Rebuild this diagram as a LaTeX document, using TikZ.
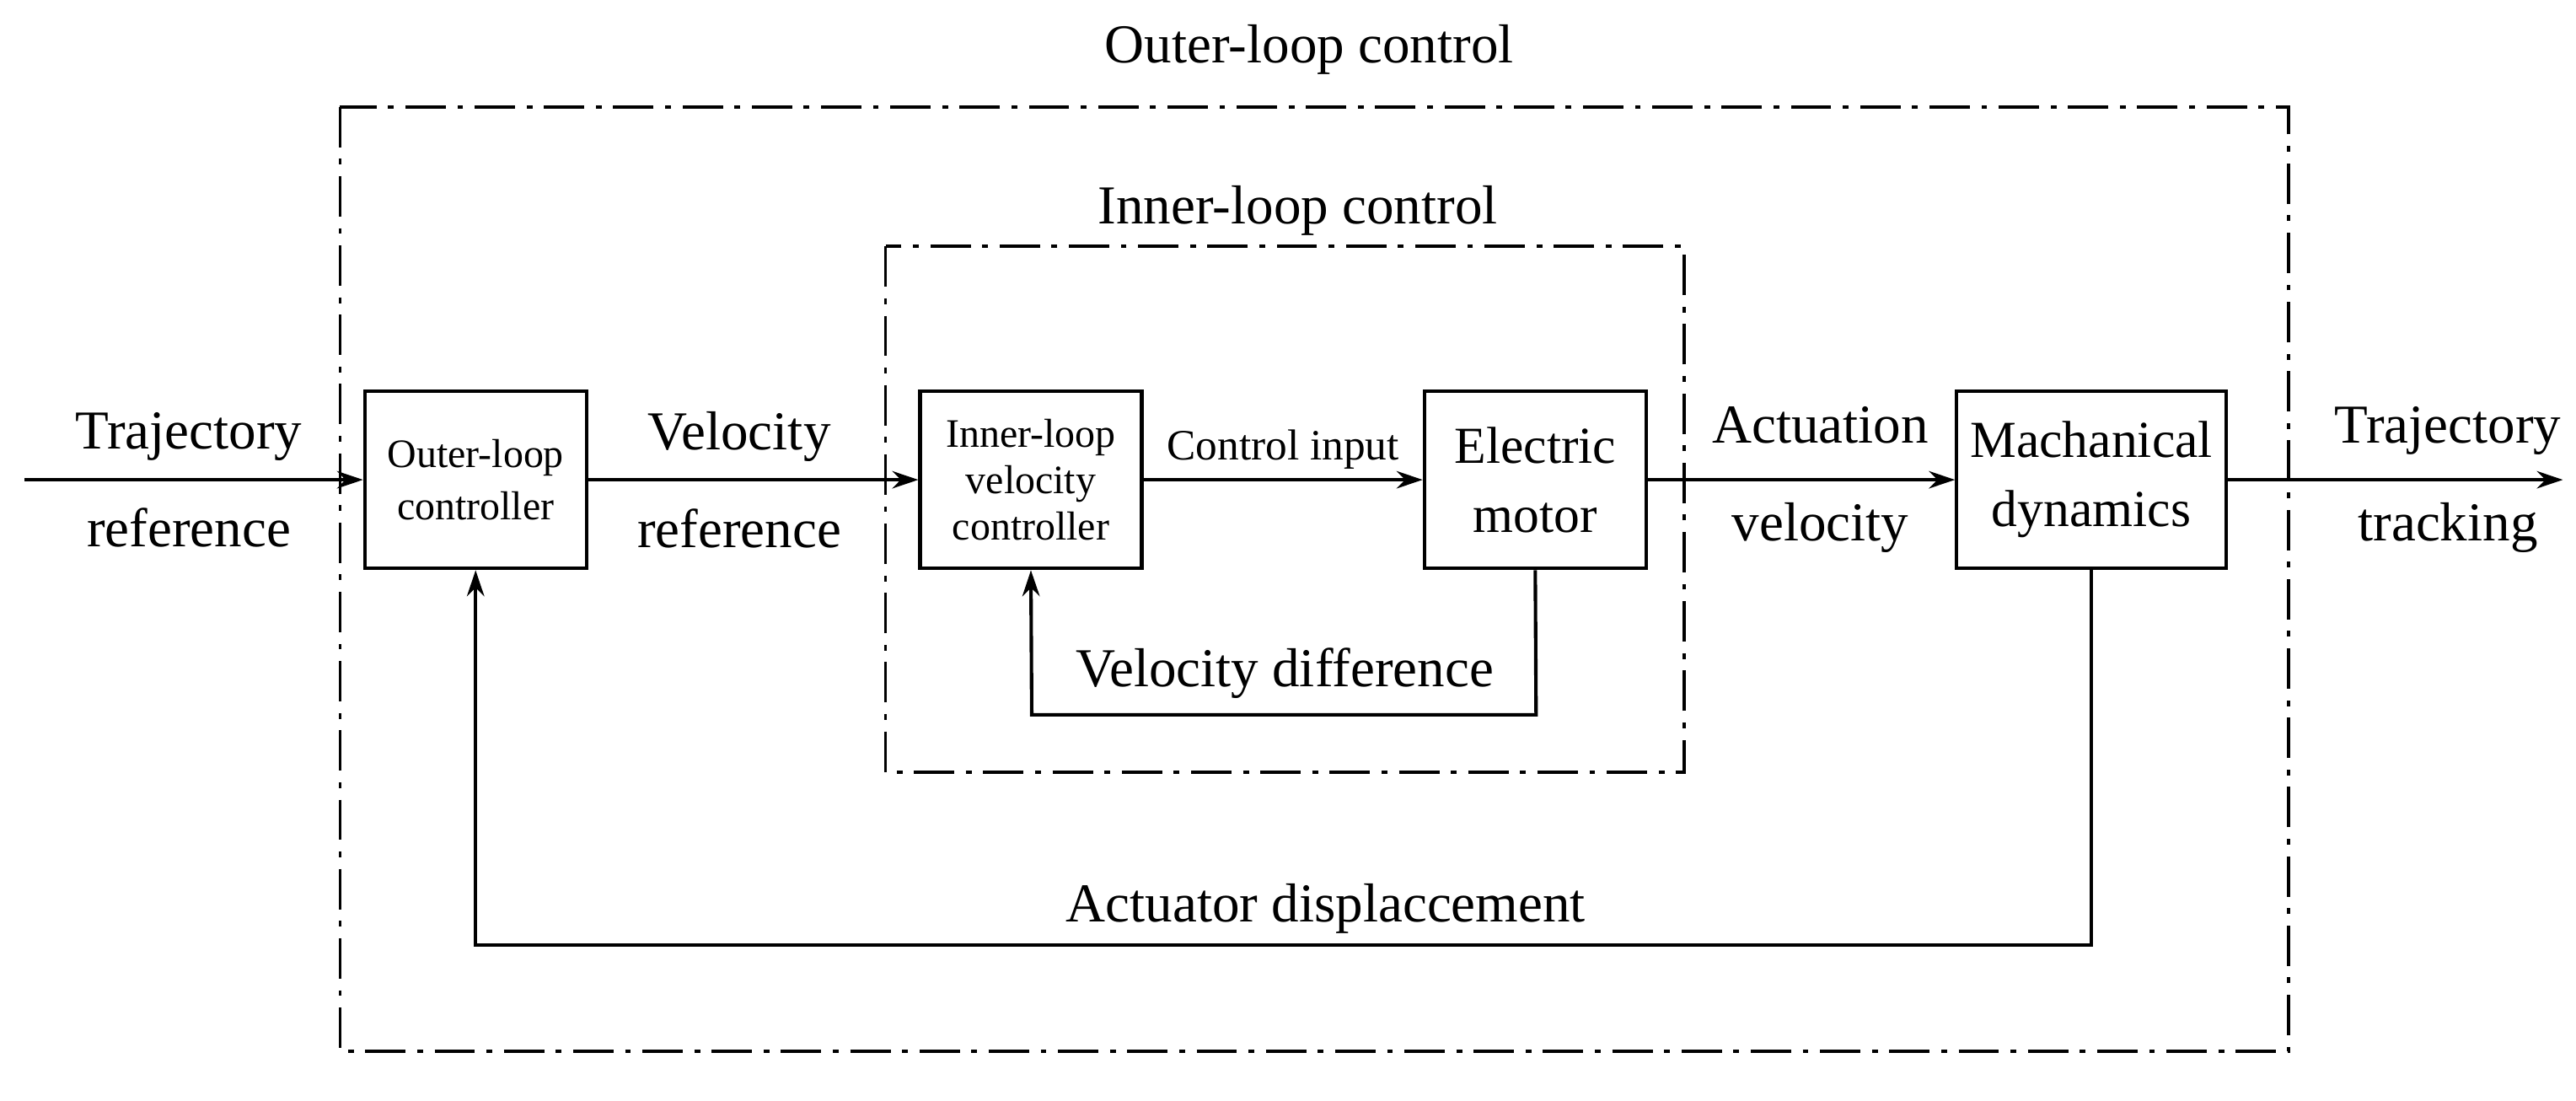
\documentclass[tikz,border=0pt]{standalone}
\usepackage{fontspec}
\setmainfont{Liberation Serif}
\usetikzlibrary{arrows.meta}
\begin{document}
\begin{tikzpicture}[x=0.02cm,y=-0.02cm,
  blk/.style={draw,line width=1.2pt,minimum width=2.7cm,minimum height=2.16cm,align=center,font=\fontsize{14}{16}\selectfont,inner sep=0pt},
  bigblk/.style={blk,font=\fontsize{18}{22}\selectfont},
  lbl/.style={align=center,font=\fontsize{19}{26}\selectfont},
  frame/.style={line width=1.1pt,dash pattern=on 14pt off 4pt on 2pt off 4pt},
  sig/.style={line width=1.2pt,-{Stealth[length=9pt,width=6pt]}}]
\useasboundingbox (0,0) rectangle (1568,670);
\draw[frame] (207,65) rectangle (1393,640);
\draw[frame] (539,150) rectangle (1025,470);
\node[lbl] (tout) at (797,30) {Outer-loop control};
\node[lbl] (tin) at (790,128) {Inner-loop control};
\node[blk] (oc) at (289.5,292) {Outer-loop\\[2pt]controller};
\node[blk] (ic) at (627.5,292) {Inner-loop\\velocity\\controller};
\node[bigblk] (em) at (934.5,292) {Electric\\[2pt]motor};
\node[bigblk,minimum width=3.28cm] (md) at (1273,292) {Machanical\\[2pt]dynamics};
\coordinate (in) at (15,292);
\coordinate (out) at (1560,292);
\draw[sig] (in) -- (oc);
\draw[sig] (oc) -- (ic);
\draw[sig] (ic) -- node[above,font=\fontsize{15}{18}\selectfont,inner sep=3pt] (ci) {Control input} (em);
\draw[sig] (em) -- (md);
\draw[sig] (md) -- (out);
\node[lbl] (l1) at (115,292) {Trajectory\\[8pt]reference};
\node[lbl] (l2) at (450,292) {Velocity\\[8pt]reference};
\node[lbl] (l3) at (1108,292) {Actuation\\[8pt]velocity};
\node[lbl] (l4) at (1490,292) {Trajectory\\[8pt]tracking};
\draw[sig] (em.south) -- (935,435) -- (628,435) -- (ic.south);
\node[lbl] (vd) at (782,410) {Velocity difference};
\draw[sig] (md.south) -- (1273,575) -- (289.5,575) -- (oc.south);
\node[lbl] (ad) at (807,553) {Actuator displaccement};
\end{tikzpicture}
\end{document}
